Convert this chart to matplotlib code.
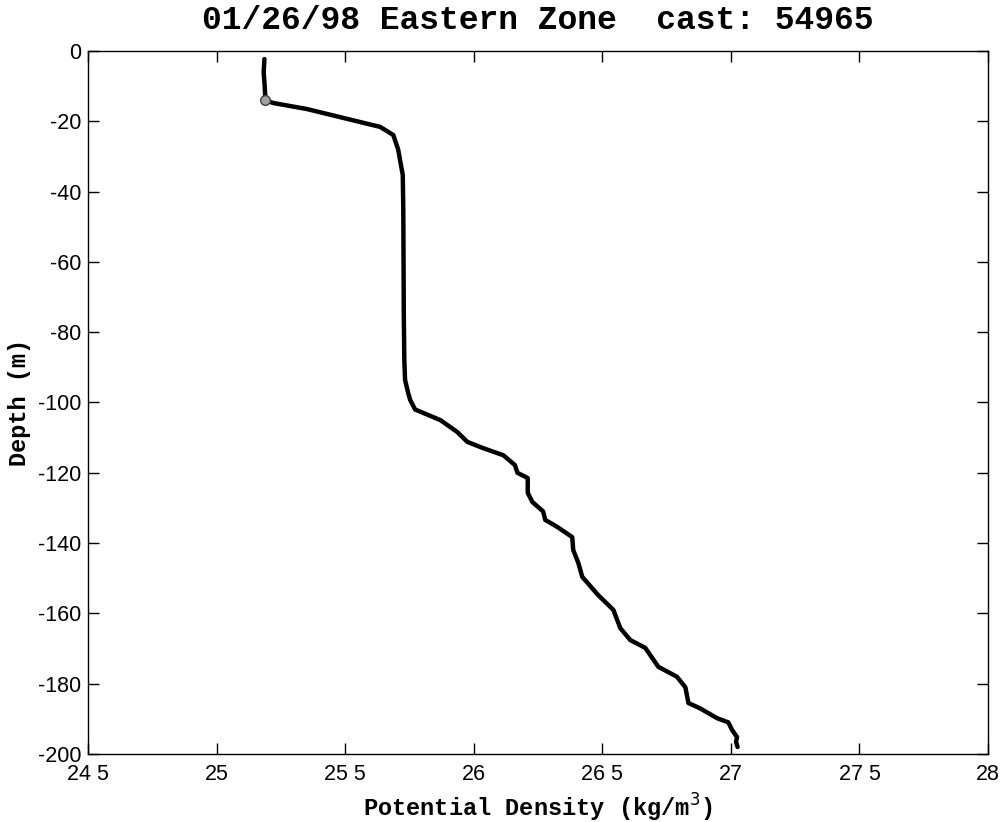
import matplotlib
matplotlib.use("Agg")
import matplotlib.pyplot as plt
import numpy as np

# density profile
density = [25.186, 25.183, 25.187, 25.190, 25.22, 25.35, 25.49, 25.636, 25.687,
           25.706, 25.724, 25.726, 25.727, 25.728, 25.730, 25.733, 25.745, 25.753,
           25.772, 25.87, 25.936, 25.975, 26.037, 26.115, 26.16, 26.17, 26.21,
           26.21, 26.228, 26.27, 26.278, 26.325, 26.383, 26.387, 26.407, 26.422,
           26.484, 26.543, 26.57, 26.609, 26.667, 26.718, 26.79, 26.823, 26.835,
           26.88, 26.946, 26.99, 27.005, 27.024, 27.02, 27.026]
depth = [-2.3, -6, -10, -14, -14.8, -16.5, -19, -21.6, -23.9,
         -28, -35.3, -45, -60, -75, -88, -93.6, -97.3, -99.3,
         -102, -105, -108.4, -111.2, -113, -115, -117.8, -120, -121.5,
         -125.7, -128.3, -131, -133.4, -135.4, -138.3, -142, -145.7, -149.6,
         -154.8, -159, -164.2, -167.6, -169.8, -175.2, -178, -181, -185.5,
         -187, -189.8, -191, -193.2, -195.2, -196.5, -198]

mld_density = [25.19]
mld_depth = [-14]

xticks = [24.5, 25, 25.5, 26, 26.5, 27, 27.5, 28]
xtick_labels = ["24 5", "25", "25 5", "26", "26 5", "27", "27 5", "28"]
yticks = [0, -20, -40, -60, -80, -100, -120, -140, -160, -180, -200]

fig = plt.figure(figsize=(10.05, 8.22), dpi=100)
ax = fig.add_axes([0.0876, 0.0827, 0.8955, 0.8553])

ax.plot(density, depth, color='black', lw=3.2, solid_capstyle='round', zorder=2)
ax.plot(mld_density, mld_depth, 'o', ms=7, mfc='#a0a0a0', mec='#404040', mew=1, zorder=3)

ax.set_xlim(24.5, 28)
ax.set_ylim(-200, 0)
ax.set_xticks(xticks)
ax.set_xticklabels(xtick_labels, family='Liberation Sans', fontsize=15.5)
ax.set_yticks(yticks)
ax.set_yticklabels([str(t) for t in yticks], family='Liberation Sans', fontsize=15.5)
ax.tick_params(direction='in', length=8, width=1, top=True, right=True)
ax.tick_params(axis='x', pad=7)
ax.tick_params(axis='y', pad=5)
for s in ax.spines.values():
    s.set_linewidth(1)

ax.set_xlabel("Potential Density (kg/m$^3$)", family='Liberation Mono',
              fontweight='bold', fontsize=17, labelpad=5)
ax.set_ylabel("Depth (m)", family='Liberation Mono', fontweight='bold',
              fontsize=17, labelpad=5)
ax.set_title("01/26/98 Eastern Zone  cast: 54965", family='Liberation Mono',
             fontweight='bold', fontsize=23.8, pad=16)

fig.savefig("out.png", dpi=100)
